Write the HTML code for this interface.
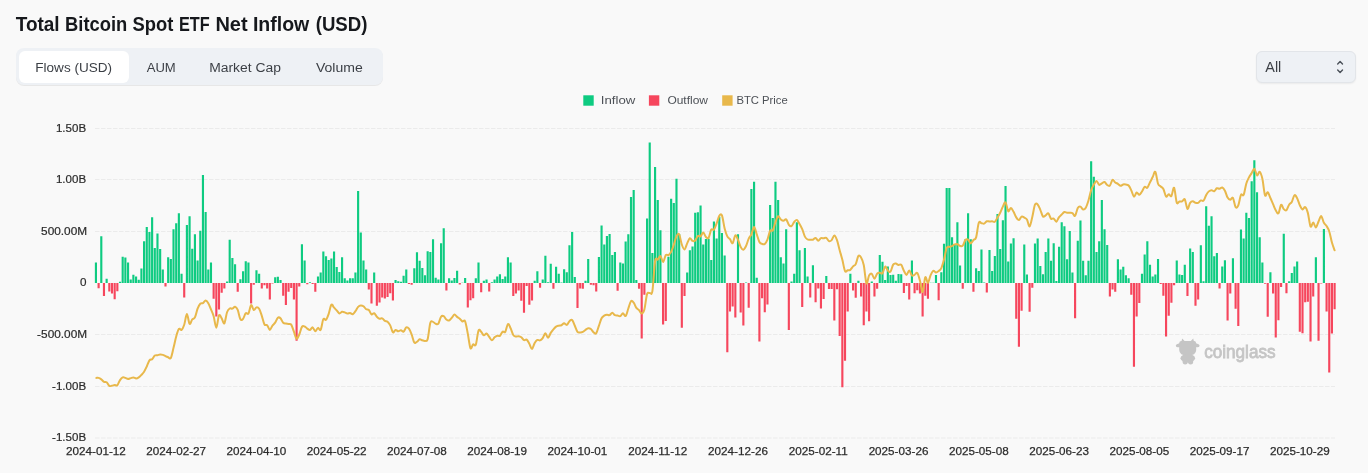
<!DOCTYPE html>
<html><head><meta charset="utf-8"><title>Total Bitcoin Spot ETF Net Inflow (USD)</title>
<style>
*{margin:0;padding:0;box-sizing:border-box}
html,body{width:1368px;height:473px;overflow:hidden;background:#f9f9f9;font-family:"Liberation Sans",sans-serif}
.chart{position:absolute;left:0;top:0;z-index:2;will-change:transform}
.tabs{position:absolute;left:16px;top:48px;width:367px;height:37px;background:#eef1f5;border-radius:8px;box-shadow:0 1px 0.5px rgba(0,0,0,0.07)}
.tab{position:absolute;top:3px;left:3px;width:110px;height:32px;background:#fff;border-radius:6px}
.sel{position:absolute;left:1256px;top:51px;width:99.5px;height:31.5px;background:#eef1f5;border:1px solid #e2e5e9;border-radius:6px;box-shadow:0 1px 2px rgba(0,0,0,0.06)}
</style></head><body>
<div class="tabs"><div class="tab"></div></div>
<div class="sel"></div>
<svg class="chart" width="1368" height="473" viewBox="0 0 1368 473" font-family="&quot;Liberation Sans&quot;, sans-serif">
<line x1="95" y1="128.5" x2="1335" y2="128.5" stroke="#ebebeb" stroke-width="1" stroke-dasharray="4.5 1.5"/>
<line x1="95" y1="179.5" x2="1335" y2="179.5" stroke="#ebebeb" stroke-width="1" stroke-dasharray="4.5 1.5"/>
<line x1="95" y1="231.5" x2="1335" y2="231.5" stroke="#ebebeb" stroke-width="1" stroke-dasharray="4.5 1.5"/>
<line x1="95" y1="334.5" x2="1335" y2="334.5" stroke="#ebebeb" stroke-width="1" stroke-dasharray="4.5 1.5"/>
<line x1="95" y1="386.5" x2="1335" y2="386.5" stroke="#ebebeb" stroke-width="1" stroke-dasharray="4.5 1.5"/>
<line x1="95" y1="438" x2="1335" y2="438" stroke="#ebebeb" stroke-width="1" stroke-dasharray="4.5 1.5"/>
<g fill="#c5c5c5"><path d="M1181.3 342 L1182.2 338.6 L1184.6 341 Z M1194.1 342 L1193.2 338.6 L1190.8 341 Z"/><ellipse cx="1179.2" cy="345.3" rx="3.4" ry="1.8" transform="rotate(-12 1179.2 345.3)"/><ellipse cx="1196.2" cy="345.3" rx="3.4" ry="1.8" transform="rotate(12 1196.2 345.3)"/><path d="M1181 341 H1194.4 Q1196.2 341 1196.2 343.5 V350 Q1196.2 355.5 1187.7 355.8 Q1179.2 355.5 1179.2 350 V343.5 Q1179.2 341 1181 341 Z"/><ellipse cx="1187.8" cy="358.3" rx="7.3" ry="4.2"/><circle cx="1185.2" cy="361.8" r="2.6"/><circle cx="1190.6" cy="361.8" r="2.6"/><text x="1204.2" y="357.9" font-size="17.6" font-weight="400" stroke="#c5c5c5" stroke-width="0.8" textLength="71.4" lengthAdjust="spacingAndGlyphs">coinglass</text></g>
<path d="M94.87 262.4h2.14v20.6h-2.14zM100.22 236.13h2.14v46.86h-2.14zM105.57 278.78h2.14v4.22h-2.14zM118.95 281.87h2.14v1.13h-2.14zM121.62 256.74h2.14v26.26h-2.14zM124.3 257.46h2.14v25.54h-2.14zM126.97 262.61h2.14v20.39h-2.14zM129.65 279.5h2.14v3.5h-2.14zM132.32 274.76h2.14v8.24h-2.14zM135 276.41h2.14v6.59h-2.14zM137.67 279.7h2.14v3.3h-2.14zM140.35 268.48h2.14v14.52h-2.14zM143.03 241.28h2.14v41.71h-2.14zM145.7 227.07h2.14v55.93h-2.14zM148.38 232.01h2.14v50.98h-2.14zM151.05 217.18h2.14v65.82h-2.14zM153.73 248.08h2.14v34.92h-2.14zM156.4 233.56h2.14v49.44h-2.14zM159.08 249.01h2.14v33.99h-2.14zM161.75 269.4h2.14v13.6h-2.14zM167.1 257.25h2.14v25.75h-2.14zM169.78 259.1h2.14v23.9h-2.14zM172.45 229.13h2.14v53.87h-2.14zM175.13 223.26h2.14v59.74h-2.14zM177.8 213.27h2.14v69.73h-2.14zM180.48 273.63h2.14v9.37h-2.14zM185.83 224.91h2.14v58.09h-2.14zM188.51 216.26h2.14v66.74h-2.14zM191.18 248.8h2.14v34.2h-2.14zM193.86 234.28h2.14v48.72h-2.14zM196.53 260.55h2.14v22.45h-2.14zM199.21 230.78h2.14v52.22h-2.14zM201.88 175.06h2.14v107.94h-2.14zM204.56 212.03h2.14v70.97h-2.14zM207.23 269.4h2.14v13.6h-2.14zM209.91 262.4h2.14v20.6h-2.14zM225.96 281.56h2.14v1.44h-2.14zM228.63 239.74h2.14v43.26h-2.14zM231.31 257.97h2.14v25.03h-2.14zM233.99 264.25h2.14v18.75h-2.14zM239.34 279.29h2.14v3.71h-2.14zM242.01 271.26h2.14v11.74h-2.14zM244.69 261.27h2.14v21.73h-2.14zM247.36 262.4h2.14v20.6h-2.14zM255.39 270.33h2.14v12.67h-2.14zM258.06 273.63h2.14v9.37h-2.14zM274.12 277.13h2.14v5.87h-2.14zM276.79 276.72h2.14v6.28h-2.14zM279.47 279.91h2.14v3.09h-2.14zM300.87 244.17h2.14v38.83h-2.14zM303.54 260.55h2.14v22.45h-2.14zM308.89 282.28h2.14v0.72h-2.14zM316.92 276.41h2.14v6.59h-2.14zM319.6 272.49h2.14v10.51h-2.14zM322.27 251.38h2.14v31.62h-2.14zM324.95 256.32h2.14v26.68h-2.14zM327.62 260.03h2.14v22.97h-2.14zM330.3 258.38h2.14v24.62h-2.14zM332.97 251.38h2.14v31.62h-2.14zM335.65 267.04h2.14v15.96h-2.14zM338.32 271.98h2.14v11.02h-2.14zM341 257.25h2.14v25.75h-2.14zM343.67 278.37h2.14v4.63h-2.14zM346.35 280.43h2.14v2.57h-2.14zM349.02 278.37h2.14v4.63h-2.14zM351.7 278.37h2.14v4.63h-2.14zM354.37 272.49h2.14v10.51h-2.14zM357.05 191.02h2.14v91.98h-2.14zM359.72 232.43h2.14v50.57h-2.14zM362.4 260.55h2.14v22.45h-2.14zM365.08 269.4h2.14v13.6h-2.14zM373.1 272.49h2.14v10.51h-2.14zM394.5 279.91h2.14v3.09h-2.14zM397.18 281.15h2.14v1.85h-2.14zM399.85 281.87h2.14v1.13h-2.14zM402.53 275.79h2.14v7.21h-2.14zM405.2 269.4h2.14v13.6h-2.14zM413.23 268.27h2.14v14.73h-2.14zM415.91 252.31h2.14v30.69h-2.14zM418.58 260.75h2.14v22.25h-2.14zM421.26 268.06h2.14v14.93h-2.14zM423.93 275.27h2.14v7.72h-2.14zM426.61 251.17h2.14v31.83h-2.14zM429.28 252.1h2.14v30.9h-2.14zM431.96 239.22h2.14v43.77h-2.14zM434.63 277.64h2.14v5.36h-2.14zM437.31 279.5h2.14v3.5h-2.14zM439.98 243.24h2.14v39.76h-2.14zM442.66 228.2h2.14v54.8h-2.14zM448.01 278.37h2.14v4.63h-2.14zM450.68 280.43h2.14v2.57h-2.14zM453.36 278.06h2.14v4.94h-2.14zM456.04 270.64h2.14v12.36h-2.14zM461.39 282.7h2.14v0.3h-2.14zM464.06 278.06h2.14v4.94h-2.14zM474.76 278.37h2.14v4.63h-2.14zM477.44 262.4h2.14v20.6h-2.14zM482.79 280.63h2.14v2.37h-2.14zM485.46 279.5h2.14v3.5h-2.14zM490.81 282.28h2.14v0.72h-2.14zM493.49 279.5h2.14v3.5h-2.14zM496.16 276.41h2.14v6.59h-2.14zM498.84 274.35h2.14v8.65h-2.14zM501.52 278.98h2.14v4.02h-2.14zM504.19 276.41h2.14v6.59h-2.14zM506.87 257.25h2.14v25.75h-2.14zM509.54 262.4h2.14v20.6h-2.14zM533.62 280.63h2.14v2.37h-2.14zM536.29 271.26h2.14v11.74h-2.14zM541.65 279.5h2.14v3.5h-2.14zM544.32 255.81h2.14v27.19h-2.14zM547 282.28h2.14v0.72h-2.14zM549.67 263.84h2.14v19.16h-2.14zM555.02 266.83h2.14v16.17h-2.14zM557.7 273.63h2.14v9.37h-2.14zM560.37 282.49h2.14v0.52h-2.14zM563.05 269.2h2.14v13.8h-2.14zM565.72 272.19h2.14v10.81h-2.14zM568.4 245.3h2.14v37.7h-2.14zM571.07 232.01h2.14v50.98h-2.14zM573.75 276.92h2.14v6.08h-2.14zM584.45 280.63h2.14v2.37h-2.14zM587.13 258.9h2.14v24.1h-2.14zM597.83 257.04h2.14v25.96h-2.14zM600.5 225.42h2.14v57.58h-2.14zM603.18 244.38h2.14v38.62h-2.14zM605.85 235.93h2.14v47.07h-2.14zM608.53 234.07h2.14v48.92h-2.14zM611.2 254.88h2.14v28.12h-2.14zM613.88 252.1h2.14v30.9h-2.14zM619.23 262.4h2.14v20.6h-2.14zM621.9 263.53h2.14v19.47h-2.14zM624.58 241.59h2.14v41.41h-2.14zM627.25 234.28h2.14v48.72h-2.14zM629.93 197.1h2.14v85.9h-2.14zM632.61 190.09h2.14v92.91h-2.14zM635.28 279.91h2.14v3.09h-2.14zM645.98 218.62h2.14v64.38h-2.14zM648.66 142.41h2.14v140.59h-2.14zM651.33 253.03h2.14v29.97h-2.14zM654.01 167.12h2.14v115.88h-2.14zM656.68 199.88h2.14v83.12h-2.14zM659.36 230.37h2.14v52.63h-2.14zM667.38 256.74h2.14v26.26h-2.14zM670.06 198.75h2.14v84.25h-2.14zM672.73 202.97h2.14v80.03h-2.14zM675.41 178.87h2.14v104.13h-2.14zM678.09 234.07h2.14v48.92h-2.14zM686.11 272.49h2.14v10.51h-2.14zM688.79 250.25h2.14v32.75h-2.14zM691.46 246.44h2.14v36.56h-2.14zM694.14 212.75h2.14v70.25h-2.14zM696.81 212.34h2.14v70.66h-2.14zM699.49 205.54h2.14v77.46h-2.14zM702.16 244.38h2.14v38.62h-2.14zM704.84 239.02h2.14v43.98h-2.14zM707.51 238.71h2.14v44.29h-2.14zM710.19 260.03h2.14v22.97h-2.14zM712.86 221.41h2.14v61.59h-2.14zM715.54 238.5h2.14v44.5h-2.14zM718.21 216.77h2.14v66.23h-2.14zM720.89 232.94h2.14v50.06h-2.14zM723.57 255.4h2.14v27.6h-2.14zM736.94 234.28h2.14v48.72h-2.14zM744.97 282.49h2.14v0.52h-2.14zM750.32 188.96h2.14v94.04h-2.14zM752.99 181.85h2.14v101.15h-2.14zM755.67 277.64h2.14v5.36h-2.14zM769.05 205.03h2.14v77.97h-2.14zM771.72 218.11h2.14v64.89h-2.14zM774.4 181.85h2.14v101.15h-2.14zM777.07 200.09h2.14v82.91h-2.14zM779.75 257.25h2.14v25.75h-2.14zM782.42 263.53h2.14v19.47h-2.14zM785.1 229.13h2.14v53.87h-2.14zM790.45 281.56h2.14v1.44h-2.14zM793.12 273.63h2.14v9.37h-2.14zM795.8 222.13h2.14v60.87h-2.14zM798.47 250.25h2.14v32.75h-2.14zM803.82 247.88h2.14v35.12h-2.14zM806.5 276.41h2.14v6.59h-2.14zM811.85 265.18h2.14v17.82h-2.14zM825.23 276h2.14v7h-2.14zM849.3 273.63h2.14v9.37h-2.14zM857.33 280.73h2.14v2.27h-2.14zM870.71 281.45h2.14v1.54h-2.14zM878.73 254.88h2.14v28.12h-2.14zM881.41 261.68h2.14v21.32h-2.14zM884.08 279.91h2.14v3.09h-2.14zM886.76 266.52h2.14v16.48h-2.14zM889.43 274.97h2.14v8.03h-2.14zM892.11 274.76h2.14v8.24h-2.14zM894.78 280.84h2.14v2.16h-2.14zM897.46 273.94h2.14v9.06h-2.14zM900.14 274.25h2.14v8.75h-2.14zM910.84 260.55h2.14v22.45h-2.14zM929.56 282.7h2.14v0.3h-2.14zM932.24 282.69h2.14v0.31h-2.14zM934.91 275.07h2.14v7.93h-2.14zM940.26 272.19h2.14v10.81h-2.14zM942.94 243.65h2.14v39.35h-2.14zM945.62 187.93h2.14v95.07h-2.14zM948.29 187.93h2.14v95.07h-2.14zM950.97 237.37h2.14v45.63h-2.14zM953.64 244.89h2.14v38.11h-2.14zM956.32 222.23h2.14v60.77h-2.14zM958.99 265.39h2.14v17.61h-2.14zM964.34 239.22h2.14v43.77h-2.14zM967.02 213.27h2.14v69.73h-2.14zM969.69 239.22h2.14v43.77h-2.14zM975.04 268.27h2.14v14.73h-2.14zM977.72 270.95h2.14v12.05h-2.14zM980.39 249.53h2.14v33.48h-2.14zM983.07 282.49h2.14v0.52h-2.14zM988.42 250.04h2.14v32.96h-2.14zM991.1 270.95h2.14v12.05h-2.14zM993.77 256.01h2.14v26.99h-2.14zM996.45 213.99h2.14v69.01h-2.14zM999.12 248.91h2.14v34.09h-2.14zM1001.8 220.17h2.14v62.83h-2.14zM1004.47 186.08h2.14v96.92h-2.14zM1007.15 261.47h2.14v21.53h-2.14zM1009.82 243.45h2.14v39.55h-2.14zM1012.5 238.3h2.14v44.7h-2.14zM1023.2 244.38h2.14v38.62h-2.14zM1025.87 274.55h2.14v8.45h-2.14zM1033.9 243.45h2.14v39.55h-2.14zM1036.58 238.5h2.14v44.5h-2.14zM1039.25 266.11h2.14v16.89h-2.14zM1041.93 274.35h2.14v8.65h-2.14zM1044.6 251.89h2.14v31.11h-2.14zM1047.28 238.5h2.14v44.5h-2.14zM1049.95 260.75h2.14v22.25h-2.14zM1052.63 243.24h2.14v39.76h-2.14zM1055.3 280.94h2.14v2.06h-2.14zM1057.98 246.74h2.14v36.26h-2.14zM1060.65 222.13h2.14v60.87h-2.14zM1063.33 226.14h2.14v56.86h-2.14zM1066 259.31h2.14v23.69h-2.14zM1068.68 230.99h2.14v52.02h-2.14zM1071.35 272.49h2.14v10.51h-2.14zM1076.71 240.87h2.14v42.13h-2.14zM1079.38 220.48h2.14v62.52h-2.14zM1082.06 260.75h2.14v22.25h-2.14zM1084.73 275.27h2.14v7.72h-2.14zM1087.41 260.75h2.14v22.25h-2.14zM1090.08 161.36h2.14v121.64h-2.14zM1092.76 176.81h2.14v106.19h-2.14zM1095.43 252.1h2.14v30.9h-2.14zM1098.11 241.28h2.14v41.71h-2.14zM1100.78 199.88h2.14v83.12h-2.14zM1103.46 229.13h2.14v53.87h-2.14zM1106.13 245.1h2.14v37.9h-2.14zM1116.83 259.31h2.14v23.69h-2.14zM1119.51 269.4h2.14v13.6h-2.14zM1122.19 266.83h2.14v16.17h-2.14zM1124.86 275.27h2.14v7.72h-2.14zM1127.54 278.37h2.14v4.63h-2.14zM1140.91 273.63h2.14v9.37h-2.14zM1143.59 254.47h2.14v28.53h-2.14zM1146.26 241.28h2.14v41.71h-2.14zM1148.94 264.77h2.14v18.23h-2.14zM1151.61 276.41h2.14v6.59h-2.14zM1154.29 274.55h2.14v8.45h-2.14zM1156.96 259.1h2.14v23.9h-2.14zM1175.69 260.55h2.14v22.45h-2.14zM1178.37 274.55h2.14v8.45h-2.14zM1181.04 275.07h2.14v7.93h-2.14zM1183.72 264.77h2.14v18.23h-2.14zM1189.07 248.6h2.14v34.4h-2.14zM1191.74 252.1h2.14v30.9h-2.14zM1199.77 245.3h2.14v37.7h-2.14zM1202.44 281.15h2.14v1.85h-2.14zM1205.12 206.26h2.14v76.73h-2.14zM1207.79 225.84h2.14v57.16h-2.14zM1210.47 216.26h2.14v66.74h-2.14zM1213.15 256.32h2.14v26.68h-2.14zM1215.82 253.03h2.14v29.97h-2.14zM1221.17 266.42h2.14v16.58h-2.14zM1223.85 260.34h2.14v22.66h-2.14zM1231.87 258.18h2.14v24.82h-2.14zM1239.9 229.44h2.14v53.56h-2.14zM1242.57 238.5h2.14v44.5h-2.14zM1245.25 212.75h2.14v70.25h-2.14zM1247.92 217.9h2.14v65.1h-2.14zM1250.6 181.24h2.14v101.76h-2.14zM1253.27 160.33h2.14v122.67h-2.14zM1255.95 192.15h2.14v90.85h-2.14zM1258.63 237.16h2.14v45.84h-2.14zM1261.3 262.4h2.14v20.6h-2.14zM1269.33 272.19h2.14v10.81h-2.14zM1282.7 233.77h2.14v49.23h-2.14zM1288.05 281.25h2.14v1.75h-2.14zM1290.73 273.01h2.14v9.99h-2.14zM1293.4 266.52h2.14v16.48h-2.14zM1296.08 261.47h2.14v21.53h-2.14zM1314.81 257.35h2.14v25.65h-2.14zM1322.83 229.03h2.14v53.97h-2.14z" fill="#0ecb81"/>
<path d="M97.55 283h2.14v5.25h-2.14zM102.9 283h2.14v12.88h-2.14zM108.25 283h2.14v8.45h-2.14zM110.92 283h2.14v10.51h-2.14zM113.6 283h2.14v16.27h-2.14zM116.27 283h2.14v8.14h-2.14zM164.43 283h2.14v3.6h-2.14zM183.15 283h2.14v14.42h-2.14zM212.58 283h2.14v15.86h-2.14zM215.26 283h2.14v33.48h-2.14zM217.93 283h2.14v26.57h-2.14zM220.61 283h2.14v9.68h-2.14zM223.28 283h2.14v5.46h-2.14zM236.66 283h2.14v8.65h-2.14zM250.04 283h2.14v20.5h-2.14zM252.71 283h2.14v1.75h-2.14zM260.74 283h2.14v5.46h-2.14zM263.41 283h2.14v2.37h-2.14zM266.09 283h2.14v5.46h-2.14zM268.76 283h2.14v16.58h-2.14zM271.44 283h2.14v0.52h-2.14zM282.14 283h2.14v12.67h-2.14zM284.82 283h2.14v22.04h-2.14zM287.49 283h2.14v8.65h-2.14zM290.17 283h2.14v4.94h-2.14zM292.84 283h2.14v16.58h-2.14zM295.52 283h2.14v57.68h-2.14zM298.19 283h2.14v3.6h-2.14zM306.22 283h2.14v1.24h-2.14zM311.57 283h2.14v1.03h-2.14zM314.24 283h2.14v8.65h-2.14zM367.75 283h2.14v6.59h-2.14zM370.43 283h2.14v20.5h-2.14zM375.78 283h2.14v22.87h-2.14zM378.45 283h2.14v19.47h-2.14zM381.13 283h2.14v14.42h-2.14zM383.8 283h2.14v15.55h-2.14zM386.48 283h2.14v14.11h-2.14zM389.15 283h2.14v10.2h-2.14zM391.83 283h2.14v17.61h-2.14zM407.88 283h2.14v1.03h-2.14zM410.56 283h2.14v1.75h-2.14zM445.33 283h2.14v7.62h-2.14zM458.71 283h2.14v1.44h-2.14zM466.74 283h2.14v24.51h-2.14zM469.41 283h2.14v17.3h-2.14zM472.09 283h2.14v15.24h-2.14zM480.11 283h2.14v9.17h-2.14zM488.14 283h2.14v8.45h-2.14zM512.22 283h2.14v12.88h-2.14zM514.89 283h2.14v10.51h-2.14zM517.57 283h2.14v7.62h-2.14zM520.24 283h2.14v17.82h-2.14zM522.92 283h2.14v29.77h-2.14zM525.59 283h2.14v2.88h-2.14zM528.27 283h2.14v21.84h-2.14zM530.94 283h2.14v17.61h-2.14zM538.97 283h2.14v4.63h-2.14zM552.35 283h2.14v5.67h-2.14zM576.42 283h2.14v25.03h-2.14zM579.1 283h2.14v5.46h-2.14zM581.77 283h2.14v5.67h-2.14zM589.8 283h2.14v1.75h-2.14zM592.48 283h2.14v2.37h-2.14zM595.15 283h2.14v8.45h-2.14zM616.55 283h2.14v7.83h-2.14zM637.96 283h2.14v5.67h-2.14zM640.63 283h2.14v55.52h-2.14zM643.31 283h2.14v11.84h-2.14zM662.03 283h2.14v41.41h-2.14zM664.71 283h2.14v38.01h-2.14zM680.76 283h2.14v44.8h-2.14zM683.44 283h2.14v12.88h-2.14zM726.24 283h2.14v69.32h-2.14zM728.92 283h2.14v28.53h-2.14zM731.59 283h2.14v23.48h-2.14zM734.27 283h2.14v34.5h-2.14zM739.62 283h2.14v29.56h-2.14zM742.29 283h2.14v42.54h-2.14zM747.64 283h2.14v24.82h-2.14zM758.34 283h2.14v58.4h-2.14zM761.02 283h2.14v15.24h-2.14zM763.7 283h2.14v29.25h-2.14zM766.37 283h2.14v21.53h-2.14zM787.77 283h2.14v46.97h-2.14zM801.15 283h2.14v24h-2.14zM809.18 283h2.14v14.42h-2.14zM814.53 283h2.14v19.26h-2.14zM817.2 283h2.14v5.46h-2.14zM819.88 283h2.14v25.54h-2.14zM822.55 283h2.14v16.07h-2.14zM827.9 283h2.14v5.97h-2.14zM830.58 283h2.14v5.97h-2.14zM833.25 283h2.14v37.39h-2.14zM835.93 283h2.14v6.28h-2.14zM838.6 283h2.14v52.94h-2.14zM841.28 283h2.14v104.34h-2.14zM843.95 283h2.14v77.66h-2.14zM846.63 283h2.14v28.53h-2.14zM851.98 283h2.14v7.62h-2.14zM854.66 283h2.14v14.83h-2.14zM860.01 283h2.14v13.6h-2.14zM862.68 283h2.14v42.23h-2.14zM865.36 283h2.14v28.53h-2.14zM868.03 283h2.14v38.21h-2.14zM873.38 283h2.14v13.6h-2.14zM876.06 283h2.14v5.67h-2.14zM902.81 283h2.14v9.89h-2.14zM905.49 283h2.14v3.09h-2.14zM908.16 283h2.14v16.48h-2.14zM913.51 283h2.14v10.3h-2.14zM916.19 283h2.14v7.21h-2.14zM918.86 283h2.14v10.61h-2.14zM921.54 283h2.14v33.48h-2.14zM924.21 283h2.14v12.77h-2.14zM926.89 283h2.14v15.66h-2.14zM937.59 283h2.14v17.3h-2.14zM961.67 283h2.14v5.67h-2.14zM972.37 283h2.14v8.65h-2.14zM985.74 283h2.14v9.48h-2.14zM1015.17 283h2.14v35.74h-2.14zM1017.85 283h2.14v63.65h-2.14zM1020.52 283h2.14v27.81h-2.14zM1028.55 283h2.14v28.74h-2.14zM1031.22 283h2.14v4.63h-2.14zM1074.03 283h2.14v35.23h-2.14zM1108.81 283h2.14v13.39h-2.14zM1111.48 283h2.14v6.59h-2.14zM1114.16 283h2.14v8.65h-2.14zM1130.21 283h2.14v11.64h-2.14zM1132.89 283h2.14v83.64h-2.14zM1135.56 283h2.14v33.48h-2.14zM1138.24 283h2.14v20.08h-2.14zM1159.64 283h2.14v1.03h-2.14zM1162.31 283h2.14v12.67h-2.14zM1164.99 283h2.14v53.46h-2.14zM1167.67 283h2.14v32.75h-2.14zM1170.34 283h2.14v19.67h-2.14zM1173.02 283h2.14v2.37h-2.14zM1186.39 283h2.14v13.08h-2.14zM1194.42 283h2.14v22.66h-2.14zM1197.09 283h2.14v16.58h-2.14zM1218.5 283h2.14v5.46h-2.14zM1226.52 283h2.14v37.49h-2.14zM1229.2 283h2.14v10.51h-2.14zM1234.55 283h2.14v25.75h-2.14zM1237.22 283h2.14v42.95h-2.14zM1263.98 283h2.14v0.72h-2.14zM1266.65 283h2.14v33.78h-2.14zM1272 283h2.14v10.4h-2.14zM1274.68 283h2.14v54.59h-2.14zM1277.35 283h2.14v37.29h-2.14zM1280.03 283h2.14v3.91h-2.14zM1285.38 283h2.14v10.2h-2.14zM1298.75 283h2.14v48.82h-2.14zM1301.43 283h2.14v50.37h-2.14zM1304.11 283h2.14v19.36h-2.14zM1306.78 283h2.14v18.64h-2.14zM1309.46 283h2.14v58.4h-2.14zM1312.13 283h2.14v13.6h-2.14zM1317.48 283h2.14v57.78h-2.14zM1320.16 283h2.14v0.52h-2.14zM1325.51 283h2.14v28.43h-2.14zM1328.18 283h2.14v89.61h-2.14zM1330.86 283h2.14v50.57h-2.14zM1333.53 283h2.14v26.26h-2.14z" fill="#f6465d"/>
<path d="M96.3 377.9C96.69 377.9 97.78 377.65 98.61 377.9C99.44 378.15 100.4 378.73 101.29 379.39C102.18 380.04 103.07 381.35 103.96 381.83C104.86 382.32 105.75 381.62 106.64 382.3C107.53 382.98 108.42 385.38 109.31 385.94C110.21 386.5 111.1 385.81 111.99 385.65C112.88 385.49 113.77 385.03 114.66 384.96C115.56 384.89 116.45 386.04 117.34 385.22C118.23 384.4 119.12 381.38 120.02 380.07C120.91 378.76 121.8 377.72 122.69 377.36C123.58 377 124.47 377.63 125.37 377.89C126.26 378.16 127.15 378.92 128.04 378.96C128.93 378.99 129.82 378.36 130.72 378.11C131.61 377.85 132.5 377.37 133.39 377.42C134.28 377.48 135.18 378.43 136.07 378.43C136.96 378.42 137.85 377.99 138.74 377.41C139.63 376.82 140.53 375.87 141.42 374.92C142.31 373.98 143.2 373.15 144.09 371.74C144.98 370.33 145.88 368.36 146.77 366.46C147.66 364.55 148.55 361.54 149.44 360.33C150.34 359.11 151.23 359.97 152.12 359.17C153.01 358.38 153.9 356.22 154.79 355.56C155.69 354.89 156.58 355.35 157.47 355.18C158.36 355 159.25 354.59 160.14 354.53C161.04 354.48 161.93 354.59 162.82 354.85C163.71 355.11 164.6 355.66 165.5 356.07C166.39 356.48 167.28 356.98 168.17 357.3C169.06 357.61 169.95 359.55 170.85 357.97C171.74 356.39 172.63 351.39 173.52 347.82C174.41 344.24 175.3 339.67 176.2 336.52C177.09 333.38 177.98 330.06 178.87 328.96C179.76 327.85 180.66 330.6 181.55 329.9C182.44 329.2 183.33 327.4 184.22 324.76C185.11 322.13 186.01 314.23 186.9 314.08C187.79 313.93 188.68 322.99 189.57 323.88C190.46 324.76 191.36 320.47 192.25 319.4C193.14 318.32 194.03 319.2 194.92 317.42C195.82 315.64 196.71 310.98 197.6 308.69C198.49 306.4 199.38 304.65 200.27 303.71C201.17 302.76 202.06 303.54 202.95 303.02C203.84 302.5 204.73 300.52 205.62 300.57C206.52 300.62 207.41 301.82 208.3 303.3C209.19 304.78 210.08 307.3 210.98 309.45C211.87 311.6 212.76 313.18 213.65 316.22C214.54 319.26 215.43 327.86 216.33 327.71C217.22 327.56 218.11 316.88 219 315.32C219.89 313.77 220.78 317.03 221.68 318.36C222.57 319.69 223.46 324.32 224.35 323.3C225.24 322.29 226.14 314.73 227.03 312.27C227.92 309.8 228.81 309.13 229.7 308.53C230.59 307.93 231.49 308.97 232.38 308.67C233.27 308.37 234.16 306.52 235.05 306.72C235.95 306.93 236.84 307.8 237.73 309.9C238.62 312 239.51 317.82 240.4 319.32C241.3 320.81 242.19 319.9 243.08 318.86C243.97 317.83 244.86 314 245.75 313.1C246.65 312.21 247.54 314.85 248.43 313.51C249.32 312.17 250.21 305.67 251.11 305.09C252 304.5 252.89 309.61 253.78 309.99C254.67 310.37 255.56 307.56 256.46 307.36C257.35 307.16 258.24 307.4 259.13 308.8C260.02 310.21 260.91 313.2 261.81 315.8C262.7 318.4 263.59 322.86 264.48 324.42C265.37 325.99 266.27 324.28 267.16 325.19C268.05 326.1 268.94 329.82 269.83 329.88C270.72 329.93 271.62 326.69 272.51 325.49C273.4 324.29 274.29 323.97 275.18 322.68C276.07 321.39 276.97 318.49 277.86 317.75C278.75 317.02 279.64 317.44 280.53 318.28C281.43 319.13 282.32 321.94 283.21 322.81C284.1 323.68 284.99 323.33 285.88 323.52C286.78 323.71 287.67 323.76 288.56 323.95C289.45 324.15 290.34 323.41 291.23 324.69C292.13 325.97 293.02 329.31 293.91 331.63C294.8 333.95 295.69 338.13 296.59 338.61C297.48 339.09 298.37 336.48 299.26 334.52C300.15 332.56 301.04 328.17 301.94 326.83C302.83 325.49 303.72 326.18 304.61 326.47C305.5 326.76 306.39 327.97 307.29 328.56C308.18 329.14 309.07 330.19 309.96 329.99C310.85 329.79 311.75 327.15 312.64 327.37C313.53 327.59 314.42 331.23 315.31 331.31C316.2 331.4 317.1 328.12 317.99 327.88C318.88 327.63 319.77 331.3 320.66 329.85C321.55 328.39 322.45 320.8 323.34 319.14C324.23 317.48 325.12 320.78 326.01 319.9C326.91 319.03 327.8 316.42 328.69 313.88C329.58 311.35 330.47 305.71 331.36 304.68C332.26 303.64 333.15 306.73 334.04 307.68C334.93 308.64 335.82 309.46 336.71 310.41C337.61 311.37 338.5 313.2 339.39 313.44C340.28 313.67 341.17 312.02 342.07 311.83C342.96 311.65 343.85 312.05 344.74 312.33C345.63 312.62 346.52 313.43 347.42 313.54C348.31 313.66 349.2 312.91 350.09 313.02C350.98 313.13 351.87 314.49 352.77 314.18C353.66 313.87 354.55 312.37 355.44 311.15C356.33 309.94 357.23 307.84 358.12 306.88C359.01 305.92 359.9 305.5 360.79 305.4C361.68 305.3 362.58 305.66 363.47 306.29C364.36 306.93 365.25 308.59 366.14 309.22C367.03 309.85 367.93 309.22 368.82 310.08C369.71 310.94 370.6 313.86 371.49 314.38C372.39 314.89 373.28 312.79 374.17 313.19C375.06 313.58 375.95 315.81 376.84 316.73C377.74 317.65 378.63 318.42 379.52 318.68C380.41 318.95 381.3 317.95 382.19 318.31C383.09 318.68 383.98 320.29 384.87 320.87C385.76 321.44 386.65 321.02 387.55 321.77C388.44 322.52 389.33 323.61 390.22 325.36C391.11 327.11 392 331.53 392.9 332.29C393.79 333.04 394.68 330.06 395.57 329.9C396.46 329.74 397.35 331.3 398.25 331.35C399.14 331.39 400.03 330.13 400.92 330.17C401.81 330.21 402.71 332.04 403.6 331.58C404.49 331.12 405.38 327.88 406.27 327.4C407.16 326.92 408.06 327.58 408.95 328.72C409.84 329.87 410.73 331.99 411.62 334.28C412.51 336.58 413.41 341.27 414.3 342.51C415.19 343.76 416.08 342.31 416.97 341.77C417.87 341.23 418.76 339.52 419.65 339.27C420.54 339.03 421.43 340.02 422.32 340.29C423.22 340.56 424.11 341.09 425 340.89C425.89 340.7 426.78 342.16 427.67 339.13C428.57 336.1 429.46 325.61 430.35 322.74C431.24 319.86 432.13 321.69 433.03 321.87C433.92 322.05 434.81 323.54 435.7 323.82C436.59 324.09 437.48 324.71 438.38 323.53C439.27 322.36 440.16 317.98 441.05 316.76C441.94 315.54 442.83 315.75 443.73 316.21C444.62 316.67 445.51 318.81 446.4 319.52C447.29 320.24 448.19 320.78 449.08 320.5C449.97 320.22 450.86 318.84 451.75 317.84C452.64 316.83 453.54 314.62 454.43 314.46C455.32 314.3 456.21 316.15 457.1 316.87C457.99 317.59 458.89 318.01 459.78 318.79C460.67 319.56 461.56 321.09 462.45 321.51C463.35 321.94 464.24 319.28 465.13 321.32C466.02 323.36 466.91 329.27 467.8 333.76C468.7 338.25 469.59 346.48 470.48 348.24C471.37 350 472.26 344.93 473.15 344.35C474.05 343.76 474.94 347.05 475.83 344.75C476.72 342.45 477.61 332.68 478.51 330.53C479.4 328.37 480.29 331 481.18 331.8C482.07 332.61 482.96 335.07 483.86 335.34C484.75 335.62 485.64 333.2 486.53 333.47C487.42 333.74 488.31 335.82 489.21 336.96C490.1 338.1 490.99 340.24 491.88 340.31C492.77 340.38 493.67 338.12 494.56 337.36C495.45 336.6 496.34 335.99 497.23 335.74C498.12 335.5 499.02 336.56 499.91 335.88C500.8 335.21 501.69 332.35 502.58 331.68C503.48 331 504.37 333.13 505.26 331.85C506.15 330.57 507.04 324.59 507.93 323.99C508.83 323.39 509.72 326.42 510.61 328.25C511.5 330.08 512.39 333.61 513.28 334.98C514.18 336.36 515.07 336.29 515.96 336.5C516.85 336.71 517.74 336.14 518.64 336.25C519.53 336.37 520.42 336.56 521.31 337.2C522.2 337.84 523.09 339.67 523.99 340.08C524.88 340.5 525.77 339.05 526.66 339.67C527.55 340.29 528.44 342.26 529.34 343.8C530.23 345.35 531.12 349.09 532.01 348.95C532.9 348.8 533.8 344.4 534.69 342.91C535.58 341.41 536.47 340.39 537.36 339.97C538.25 339.55 539.15 340.69 540.04 340.37C540.93 340.06 541.82 339.26 542.71 338.08C543.6 336.91 544.5 333.39 545.39 333.32C546.28 333.26 547.17 337.76 548.06 337.69C548.96 337.62 549.85 334.3 550.74 332.91C551.63 331.51 552.52 330.34 553.41 329.3C554.31 328.26 555.2 327.26 556.09 326.66C556.98 326.06 557.87 325.94 558.76 325.7C559.66 325.46 560.55 325.62 561.44 325.22C562.33 324.82 563.22 323.33 564.12 323.28C565.01 323.24 565.9 325.29 566.79 324.94C567.68 324.59 568.57 322.01 569.47 321.19C570.36 320.36 571.25 319.22 572.14 319.98C573.03 320.74 573.92 323.78 574.82 325.74C575.71 327.71 576.6 330.67 577.49 331.78C578.38 332.89 579.28 332.37 580.17 332.4C581.06 332.42 581.95 332.36 582.84 331.93C583.73 331.5 584.63 330.43 585.52 329.81C586.41 329.19 587.3 328.37 588.19 328.23C589.08 328.09 589.98 328.31 590.87 328.99C591.76 329.67 592.65 331.59 593.54 332.3C594.44 333.01 595.33 334.32 596.22 333.25C597.11 332.17 598 328.32 598.89 325.82C599.79 323.33 600.68 319.99 601.57 318.3C602.46 316.6 603.35 316.23 604.24 315.65C605.14 315.06 606.03 314.88 606.92 314.8C607.81 314.71 608.7 315.45 609.6 315.12C610.49 314.79 611.38 312.82 612.27 312.83C613.16 312.85 614.05 314.74 614.95 315.2C615.84 315.66 616.73 315.44 617.62 315.59C618.51 315.75 619.4 316.49 620.3 316.11C621.19 315.72 622.08 313.3 622.97 313.27C623.86 313.25 624.76 316.74 625.65 315.95C626.54 315.16 627.43 310.98 628.32 308.53C629.21 306.07 630.11 302.18 631 301.2C631.89 300.23 632.78 301.56 633.67 302.67C634.56 303.79 635.46 306.64 636.35 307.88C637.24 309.13 638.13 309.21 639.02 310.14C639.92 311.07 640.81 313.59 641.7 313.49C642.59 313.38 643.48 312.73 644.37 309.51C645.27 306.29 646.16 296.91 647.05 294.15C647.94 291.39 648.83 293.43 649.72 292.93C650.62 292.43 651.51 296.4 652.4 291.12C653.29 285.85 654.18 266.55 655.08 261.28C655.97 256.01 656.86 260.37 657.75 259.51C658.64 258.65 659.53 255.7 660.43 256.12C661.32 256.54 662.21 262.22 663.1 262.04C663.99 261.86 664.88 256.18 665.78 255.02C666.67 253.87 667.56 255.62 668.45 255.09C669.34 254.56 670.24 253.56 671.13 251.85C672.02 250.13 672.91 247.37 673.8 244.78C674.69 242.2 675.59 238.08 676.48 236.33C677.37 234.59 678.26 232.93 679.15 234.31C680.04 235.69 680.94 242.08 681.83 244.61C682.72 247.14 683.61 249.71 684.5 249.5C685.4 249.28 686.29 245.21 687.18 243.33C688.07 241.46 688.96 238.65 689.85 238.25C690.75 237.84 691.64 240.52 692.53 240.9C693.42 241.28 694.31 241.33 695.2 240.51C696.1 239.68 696.99 236.61 697.88 235.93C698.77 235.25 699.66 237.01 700.56 236.42C701.45 235.84 702.34 232.32 703.23 232.42C704.12 232.51 705.01 236.1 705.91 237C706.8 237.9 707.69 239.04 708.58 237.8C709.47 236.56 710.36 230.91 711.26 229.55C712.15 228.19 713.04 230.67 713.93 229.65C714.82 228.63 715.72 225.73 716.61 223.44C717.5 221.14 718.39 217.19 719.28 215.86C720.17 214.54 721.07 213.42 721.96 215.51C722.85 217.61 723.74 224.95 724.63 228.43C725.52 231.9 726.42 234.57 727.31 236.37C728.2 238.17 729.09 238.07 729.98 239.21C730.88 240.36 731.77 243.91 732.66 243.25C733.55 242.59 734.44 235.78 735.33 235.23C736.23 234.69 737.12 238 738.01 239.96C738.9 241.92 739.79 245.37 740.68 246.98C741.58 248.6 742.47 249.83 743.36 249.66C744.25 249.49 745.14 247.82 746.04 245.97C746.93 244.13 747.82 240.5 748.71 238.57C749.6 236.65 750.49 236.36 751.39 234.45C752.28 232.53 753.17 227.11 754.06 227.08C754.95 227.05 755.84 231.79 756.74 234.28C757.63 236.76 758.52 240.38 759.41 241.99C760.3 243.6 761.2 243.58 762.09 243.91C762.98 244.24 763.87 244.68 764.76 243.97C765.65 243.25 766.55 241.8 767.44 239.61C768.33 237.42 769.22 232.34 770.11 230.8C771.01 229.26 771.9 231.82 772.79 230.37C773.68 228.92 774.57 224.48 775.46 222.12C776.36 219.77 777.25 216.67 778.14 216.23C779.03 215.79 779.92 218.72 780.81 219.48C781.71 220.24 782.6 220.82 783.49 220.81C784.38 220.79 785.27 218.7 786.17 219.36C787.06 220.03 787.95 223.64 788.84 224.77C789.73 225.91 790.62 226.63 791.52 226.17C792.41 225.71 793.3 223.04 794.19 222C795.08 220.97 795.97 219.6 796.87 219.93C797.76 220.26 798.65 222.45 799.54 223.98C800.43 225.51 801.33 227.02 802.22 229.13C803.11 231.25 804 234.94 804.89 236.66C805.78 238.39 806.68 238.99 807.57 239.5C808.46 240 809.35 239.67 810.24 239.7C811.13 239.73 812.03 240 812.92 239.7C813.81 239.4 814.7 237.73 815.59 237.91C816.49 238.08 817.38 240.69 818.27 240.74C819.16 240.78 820.05 238.58 820.94 238.18C821.84 237.77 822.73 238.35 823.62 238.31C824.51 238.26 825.4 237.43 826.29 237.9C827.19 238.37 828.08 240.77 828.97 241.15C829.86 241.52 830.75 241.06 831.65 240.12C832.54 239.18 833.43 235.51 834.32 235.53C835.21 235.54 836.1 237.76 837 240.2C837.89 242.64 838.78 246.92 839.67 250.18C840.56 253.45 841.45 256.3 842.35 259.77C843.24 263.25 844.13 269.28 845.02 271.03C845.91 272.78 846.81 270.48 847.7 270.28C848.59 270.08 849.48 270.47 850.37 269.82C851.26 269.18 852.16 267.35 853.05 266.4C853.94 265.45 854.83 265.85 855.72 264.1C856.61 262.36 857.51 257.05 858.4 255.95C859.29 254.85 860.18 255.99 861.07 257.5C861.97 259 862.86 260.69 863.75 264.98C864.64 269.27 865.53 281.5 866.42 283.24C867.32 284.97 868.21 276.95 869.1 275.38C869.99 273.81 870.88 273.27 871.77 273.82C872.67 274.38 873.56 278.76 874.45 278.72C875.34 278.68 876.23 274.6 877.13 273.59C878.02 272.58 878.91 272.73 879.8 272.66C880.69 272.6 881.58 274.22 882.48 273.21C883.37 272.2 884.26 267.04 885.15 266.6C886.04 266.15 886.93 269.7 887.83 270.55C888.72 271.4 889.61 272.68 890.5 271.69C891.39 270.7 892.29 265.98 893.18 264.63C894.07 263.29 894.96 263.55 895.85 263.62C896.74 263.68 897.64 264.85 898.53 265.02C899.42 265.2 900.31 263.74 901.2 264.68C902.09 265.63 902.99 269 903.88 270.7C904.77 272.4 905.66 274.91 906.55 274.88C907.45 274.84 908.34 270.41 909.23 270.5C910.12 270.59 911.01 274.71 911.9 275.43C912.8 276.15 913.69 275.22 914.58 274.8C915.47 274.38 916.36 271.93 917.25 272.89C918.15 273.85 919.04 277.39 919.93 280.57C920.82 283.75 921.71 292.51 922.61 291.97C923.5 291.43 924.39 278.86 925.28 277.33C926.17 275.79 927.06 283.12 927.96 282.74C928.85 282.37 929.74 277.07 930.63 275.08C931.52 273.09 932.41 271.23 933.31 270.81C934.2 270.38 935.09 272.5 935.98 272.55C936.87 272.59 937.77 271.83 938.66 271.08C939.55 270.33 940.44 269.96 941.33 268.05C942.22 266.13 943.12 262.95 944.01 259.6C944.9 256.25 945.79 250.07 946.68 247.95C947.57 245.84 948.47 247.21 949.36 246.89C950.25 246.58 951.14 246.49 952.03 246.08C952.93 245.66 953.82 244.69 954.71 244.38C955.6 244.06 956.49 243.93 957.38 244.19C958.28 244.45 959.17 245.68 960.06 245.92C960.95 246.16 961.84 246.6 962.73 245.61C963.63 244.62 964.52 240.99 965.41 239.99C966.3 238.98 967.19 239.02 968.09 239.59C968.98 240.16 969.87 243.35 970.76 243.41C971.65 243.47 972.54 240.97 973.44 239.97C974.33 238.97 975.22 240.27 976.11 237.4C977 234.53 977.89 225.13 978.79 222.75C979.68 220.38 980.57 223 981.46 223.15C982.35 223.29 983.25 223.95 984.14 223.64C985.03 223.33 985.92 221.62 986.81 221.26C987.7 220.9 988.6 221.47 989.49 221.49C990.38 221.5 991.27 221.32 992.16 221.37C993.05 221.41 993.95 222.4 994.84 221.75C995.73 221.11 996.62 219.01 997.51 217.5C998.41 215.99 999.3 214.5 1000.19 212.69C1001.08 210.87 1001.97 208.33 1002.86 206.61C1003.76 204.9 1004.65 201.62 1005.54 202.39C1006.43 203.16 1007.32 210.32 1008.21 211.25C1009.11 212.17 1010 207.83 1010.89 207.93C1011.78 208.03 1012.67 210.28 1013.57 211.85C1014.46 213.43 1015.35 216.01 1016.24 217.38C1017.13 218.75 1018.02 220.22 1018.92 220.09C1019.81 219.95 1020.7 217.03 1021.59 216.6C1022.48 216.17 1023.37 217.02 1024.27 217.52C1025.16 218.01 1026.05 218.07 1026.94 219.55C1027.83 221.03 1028.73 226.82 1029.62 226.39C1030.51 225.97 1031.4 220.61 1032.29 216.98C1033.18 213.35 1034.08 206.71 1034.97 204.62C1035.86 202.53 1036.75 203.57 1037.64 204.43C1038.54 205.29 1039.43 207.76 1040.32 209.78C1041.21 211.8 1042.1 215.62 1042.99 216.56C1043.89 217.49 1044.78 215.91 1045.67 215.39C1046.56 214.87 1047.45 212.87 1048.34 213.42C1049.24 213.98 1050.13 217.84 1051.02 218.7C1051.91 219.55 1052.8 218.05 1053.7 218.54C1054.59 219.04 1055.48 221.9 1056.37 221.67C1057.26 221.43 1058.15 218.35 1059.05 217.15C1059.94 215.96 1060.83 215.33 1061.72 214.48C1062.61 213.63 1063.5 212.35 1064.4 212.05C1065.29 211.75 1066.18 212.56 1067.07 212.69C1067.96 212.82 1068.86 212.77 1069.75 212.84C1070.64 212.9 1071.53 212.59 1072.42 213.09C1073.31 213.58 1074.21 216.65 1075.1 215.81C1075.99 214.97 1076.88 209.57 1077.77 208.04C1078.66 206.51 1079.56 206.39 1080.45 206.64C1081.34 206.89 1082.23 209.35 1083.12 209.53C1084.02 209.71 1084.91 209.23 1085.8 207.72C1086.69 206.22 1087.58 203.43 1088.47 200.5C1089.37 197.57 1090.26 192.77 1091.15 190.15C1092.04 187.52 1092.93 186.3 1093.82 184.76C1094.72 183.22 1095.61 180.9 1096.5 180.91C1097.39 180.93 1098.28 184.45 1099.18 184.86C1100.07 185.26 1100.96 183.8 1101.85 183.33C1102.74 182.86 1103.63 181.76 1104.53 182.04C1105.42 182.32 1106.31 184.44 1107.2 185.03C1108.09 185.61 1108.98 186.43 1109.88 185.57C1110.77 184.71 1111.66 180.37 1112.55 179.86C1113.44 179.34 1114.34 181.82 1115.23 182.47C1116.12 183.13 1117.01 183.26 1117.9 183.81C1118.79 184.36 1119.69 185.68 1120.58 185.78C1121.47 185.88 1122.36 184.6 1123.25 184.4C1124.14 184.2 1125.04 184.41 1125.93 184.59C1126.82 184.77 1127.71 184.54 1128.6 185.49C1129.5 186.45 1130.39 188.46 1131.28 190.32C1132.17 192.18 1133.06 196.27 1133.95 196.64C1134.85 197.01 1135.74 192.86 1136.63 192.55C1137.52 192.23 1138.41 194.93 1139.3 194.76C1140.2 194.58 1141.09 192.83 1141.98 191.51C1142.87 190.18 1143.76 187.42 1144.66 186.79C1145.55 186.16 1146.44 188.5 1147.33 187.74C1148.22 186.98 1149.11 184.01 1150.01 182.23C1150.9 180.45 1151.79 178.79 1152.68 177.06C1153.57 175.32 1154.46 170.73 1155.36 171.84C1156.25 172.95 1157.14 181.3 1158.03 183.74C1158.92 186.17 1159.82 185.57 1160.71 186.45C1161.6 187.33 1162.49 187.35 1163.38 189.02C1164.27 190.7 1165.17 195.62 1166.06 196.49C1166.95 197.37 1167.84 194.34 1168.73 194.26C1169.62 194.18 1170.52 197.12 1171.41 196.03C1172.3 194.94 1173.19 186.64 1174.08 187.73C1174.98 188.82 1175.87 200.28 1176.76 202.57C1177.65 204.85 1178.54 201.65 1179.43 201.46C1180.33 201.27 1181.22 201.8 1182.11 201.43C1183 201.07 1183.89 198.06 1184.78 199.29C1185.68 200.53 1186.57 208.23 1187.46 208.83C1188.35 209.43 1189.24 204.17 1190.14 202.92C1191.03 201.67 1191.92 201.36 1192.81 201.34C1193.7 201.33 1194.59 202.57 1195.49 202.83C1196.38 203.09 1197.27 203.29 1198.16 202.9C1199.05 202.5 1199.94 200.82 1200.84 200.44C1201.73 200.07 1202.62 201.54 1203.51 200.64C1204.4 199.74 1205.3 196.58 1206.19 195.04C1207.08 193.49 1207.97 192.19 1208.86 191.38C1209.75 190.58 1210.65 190.22 1211.54 190.2C1212.43 190.18 1213.32 191.57 1214.21 191.24C1215.1 190.92 1216 188.67 1216.89 188.26C1217.78 187.84 1218.67 188.88 1219.56 188.76C1220.46 188.64 1221.35 187.22 1222.24 187.53C1223.13 187.85 1224.02 188.98 1224.91 190.66C1225.81 192.34 1226.7 196.09 1227.59 197.61C1228.48 199.13 1229.37 199.71 1230.26 199.76C1231.16 199.81 1232.05 196.66 1232.94 197.9C1233.83 199.14 1234.72 205.95 1235.62 207.18C1236.51 208.42 1237.4 207.37 1238.29 205.31C1239.18 203.26 1240.07 196.59 1240.97 194.84C1241.86 193.1 1242.75 196.75 1243.64 194.86C1244.53 192.97 1245.42 186.42 1246.32 183.51C1247.21 180.59 1248.1 179.11 1248.99 177.38C1249.88 175.65 1250.78 174.58 1251.67 173.13C1252.56 171.69 1253.45 168.33 1254.34 168.7C1255.23 169.08 1256.13 174.85 1257.02 175.36C1257.91 175.87 1258.8 171.19 1259.69 171.77C1260.58 172.35 1261.48 174.92 1262.37 178.84C1263.26 182.76 1264.15 193.06 1265.04 195.29C1265.94 197.52 1266.83 191.76 1267.72 192.21C1268.61 192.67 1269.5 196.04 1270.39 198.03C1271.29 200.03 1272.18 202.16 1273.07 204.2C1273.96 206.23 1274.85 208.73 1275.74 210.26C1276.64 211.8 1277.53 214.3 1278.42 213.4C1279.31 212.49 1280.2 205.55 1281.1 204.84C1281.99 204.12 1282.88 208.22 1283.77 209.1C1284.66 209.99 1285.55 210.89 1286.45 210.15C1287.34 209.41 1288.23 206.04 1289.12 204.68C1290.01 203.31 1290.9 203.51 1291.8 201.94C1292.69 200.36 1293.58 195.83 1294.47 195.23C1295.36 194.63 1296.26 196.64 1297.15 198.31C1298.04 199.98 1298.93 203.4 1299.82 205.26C1300.71 207.13 1301.61 209.18 1302.5 209.49C1303.39 209.79 1304.28 206.53 1305.17 207.09C1306.07 207.66 1306.96 209.64 1307.85 212.88C1308.74 216.11 1309.63 224.88 1310.52 226.49C1311.42 228.1 1312.31 222.38 1313.2 222.54C1314.09 222.69 1314.98 227.6 1315.87 227.43C1316.77 227.25 1317.66 223.36 1318.55 221.48C1319.44 219.59 1320.33 215.88 1321.23 216.11C1322.12 216.34 1323.01 221.17 1323.9 222.83C1324.79 224.49 1325.68 224.64 1326.58 226.08C1327.47 227.51 1328.36 228.69 1329.25 231.44C1330.14 234.19 1331.03 239.43 1331.93 242.57C1332.82 245.72 1334.16 249.01 1334.6 250.3" fill="none" stroke="#e8b84b" stroke-width="2" stroke-linejoin="round" stroke-linecap="round"/>
<rect x="583.3" y="95.3" width="10.4" height="10.4" fill="#0ecb81"/>
<rect x="648.9" y="95.3" width="10.4" height="10.4" fill="#f6465d"/>
<rect x="722.2" y="95.3" width="10.4" height="10.4" fill="#e8b84b"/>
<path d="M1337.7 64 L1340.1 61.5 L1342.5 64 M1337.7 69.9 L1340.1 72.4 L1342.5 69.9" fill="none" stroke="#4b5159" stroke-width="1.4" stroke-linecap="round" stroke-linejoin="round"/>
<text x="15.7" y="31" font-size="19.5" fill="#16181c" font-weight="700" text-anchor="start" textLength="43.96" lengthAdjust="spacingAndGlyphs">Total</text>
<text x="65.1" y="31" font-size="19.5" fill="#16181c" font-weight="700" text-anchor="start" textLength="62.2" lengthAdjust="spacingAndGlyphs">Bitcoin</text>
<text x="132.6" y="31" font-size="19.5" fill="#16181c" font-weight="700" text-anchor="start" textLength="40.8" lengthAdjust="spacingAndGlyphs">Spot</text>
<text x="179" y="31" font-size="19.5" fill="#16181c" font-weight="700" text-anchor="start" textLength="30.77" lengthAdjust="spacingAndGlyphs">ETF</text>
<text x="215.4" y="31" font-size="19.5" fill="#16181c" font-weight="700" text-anchor="start" textLength="32.24" lengthAdjust="spacingAndGlyphs">Net</text>
<text x="252.9" y="31" font-size="19.5" fill="#16181c" font-weight="700" text-anchor="start" textLength="56.41" lengthAdjust="spacingAndGlyphs">Inflow</text>
<text x="315.7" y="31" font-size="19.5" fill="#16181c" font-weight="700" text-anchor="start" textLength="51.81" lengthAdjust="spacingAndGlyphs">(USD)</text>
<text x="35.3" y="72.3" font-size="13.7" fill="#3b3f45" font-weight="400" text-anchor="start" textLength="76.8" lengthAdjust="spacingAndGlyphs">Flows (USD)</text>
<text x="146.7" y="72.3" font-size="13.7" fill="#3b3f45" font-weight="400" text-anchor="start" textLength="29.07" lengthAdjust="spacingAndGlyphs">AUM</text>
<text x="209.2" y="72.3" font-size="13.7" fill="#3b3f45" font-weight="400" text-anchor="start" textLength="71.81" lengthAdjust="spacingAndGlyphs">Market Cap</text>
<text x="315.9" y="72.3" font-size="13.7" fill="#3b3f45" font-weight="400" text-anchor="start" textLength="46.81" lengthAdjust="spacingAndGlyphs">Volume</text>
<text x="1265.3" y="72.2" font-size="14.2" fill="#3b3f45" font-weight="400" text-anchor="start" textLength="16.02" lengthAdjust="spacingAndGlyphs">All</text>
<text x="600.8" y="104" font-size="11.3" fill="#4d5157" font-weight="400" text-anchor="start" textLength="34.54" lengthAdjust="spacingAndGlyphs">Inflow</text>
<text x="667.4" y="104" font-size="11.3" fill="#4d5157" font-weight="400" text-anchor="start" textLength="40.58" lengthAdjust="spacingAndGlyphs">Outflow</text>
<text x="736.4" y="104" font-size="11.3" fill="#4d5157" font-weight="400" text-anchor="start" textLength="51.41" lengthAdjust="spacingAndGlyphs">BTC Price</text>
<text x="55.93" y="131.55" font-size="11.4" fill="#2b2b2b" font-weight="400" text-anchor="start" textLength="30.17" lengthAdjust="spacingAndGlyphs" stroke="#2b2b2b" stroke-width="0.2">1.50B</text>
<text x="55.93" y="182.55" font-size="11.4" fill="#2b2b2b" font-weight="400" text-anchor="start" textLength="30.17" lengthAdjust="spacingAndGlyphs" stroke="#2b2b2b" stroke-width="0.2">1.00B</text>
<text x="41.1" y="234.55" font-size="11.4" fill="#2b2b2b" font-weight="400" text-anchor="start" textLength="46.0" lengthAdjust="spacingAndGlyphs" stroke="#2b2b2b" stroke-width="0.2">500.00M</text>
<text x="79.9" y="286.05" font-size="11.4" fill="#2b2b2b" font-weight="400" text-anchor="start" textLength="6.5" lengthAdjust="spacingAndGlyphs" stroke="#2b2b2b" stroke-width="0.2">0</text>
<text x="37.12" y="337.55" font-size="11.4" fill="#2b2b2b" font-weight="400" text-anchor="start" textLength="49.98" lengthAdjust="spacingAndGlyphs" stroke="#2b2b2b" stroke-width="0.2">-500.00M</text>
<text x="52.1" y="389.55" font-size="11.4" fill="#2b2b2b" font-weight="400" text-anchor="start" textLength="34.0" lengthAdjust="spacingAndGlyphs" stroke="#2b2b2b" stroke-width="0.2">-1.00B</text>
<text x="52.1" y="440.55" font-size="11.4" fill="#2b2b2b" font-weight="400" text-anchor="start" textLength="34.0" lengthAdjust="spacingAndGlyphs" stroke="#2b2b2b" stroke-width="0.2">-1.50B</text>
<text x="95.94" y="454.8" font-size="11.8" fill="#2b2b2b" font-weight="400" text-anchor="middle" textLength="59.79" lengthAdjust="spacingAndGlyphs" stroke="#2b2b2b" stroke-width="0.25">2024-01-12</text>
<text x="176.2" y="454.8" font-size="11.8" fill="#2b2b2b" font-weight="400" text-anchor="middle" textLength="59.79" lengthAdjust="spacingAndGlyphs" stroke="#2b2b2b" stroke-width="0.25">2024-02-27</text>
<text x="256.46" y="454.8" font-size="11.8" fill="#2b2b2b" font-weight="400" text-anchor="middle" textLength="59.79" lengthAdjust="spacingAndGlyphs" stroke="#2b2b2b" stroke-width="0.25">2024-04-10</text>
<text x="336.71" y="454.8" font-size="11.8" fill="#2b2b2b" font-weight="400" text-anchor="middle" textLength="59.79" lengthAdjust="spacingAndGlyphs" stroke="#2b2b2b" stroke-width="0.25">2024-05-22</text>
<text x="416.97" y="454.8" font-size="11.8" fill="#2b2b2b" font-weight="400" text-anchor="middle" textLength="59.79" lengthAdjust="spacingAndGlyphs" stroke="#2b2b2b" stroke-width="0.25">2024-07-08</text>
<text x="497.23" y="454.8" font-size="11.8" fill="#2b2b2b" font-weight="400" text-anchor="middle" textLength="59.79" lengthAdjust="spacingAndGlyphs" stroke="#2b2b2b" stroke-width="0.25">2024-08-19</text>
<text x="577.49" y="454.8" font-size="11.8" fill="#2b2b2b" font-weight="400" text-anchor="middle" textLength="59.79" lengthAdjust="spacingAndGlyphs" stroke="#2b2b2b" stroke-width="0.25">2024-10-01</text>
<text x="657.75" y="454.8" font-size="11.8" fill="#2b2b2b" font-weight="400" text-anchor="middle" textLength="58.92" lengthAdjust="spacingAndGlyphs" stroke="#2b2b2b" stroke-width="0.25">2024-11-12</text>
<text x="738.01" y="454.8" font-size="11.8" fill="#2b2b2b" font-weight="400" text-anchor="middle" textLength="59.79" lengthAdjust="spacingAndGlyphs" stroke="#2b2b2b" stroke-width="0.25">2024-12-26</text>
<text x="818.27" y="454.8" font-size="11.8" fill="#2b2b2b" font-weight="400" text-anchor="middle" textLength="58.92" lengthAdjust="spacingAndGlyphs" stroke="#2b2b2b" stroke-width="0.25">2025-02-11</text>
<text x="898.53" y="454.8" font-size="11.8" fill="#2b2b2b" font-weight="400" text-anchor="middle" textLength="59.79" lengthAdjust="spacingAndGlyphs" stroke="#2b2b2b" stroke-width="0.25">2025-03-26</text>
<text x="978.79" y="454.8" font-size="11.8" fill="#2b2b2b" font-weight="400" text-anchor="middle" textLength="59.79" lengthAdjust="spacingAndGlyphs" stroke="#2b2b2b" stroke-width="0.25">2025-05-08</text>
<text x="1059.05" y="454.8" font-size="11.8" fill="#2b2b2b" font-weight="400" text-anchor="middle" textLength="59.79" lengthAdjust="spacingAndGlyphs" stroke="#2b2b2b" stroke-width="0.25">2025-06-23</text>
<text x="1139.3" y="454.8" font-size="11.8" fill="#2b2b2b" font-weight="400" text-anchor="middle" textLength="59.79" lengthAdjust="spacingAndGlyphs" stroke="#2b2b2b" stroke-width="0.25">2025-08-05</text>
<text x="1219.56" y="454.8" font-size="11.8" fill="#2b2b2b" font-weight="400" text-anchor="middle" textLength="59.79" lengthAdjust="spacingAndGlyphs" stroke="#2b2b2b" stroke-width="0.25">2025-09-17</text>
<text x="1299.82" y="454.8" font-size="11.8" fill="#2b2b2b" font-weight="400" text-anchor="middle" textLength="59.79" lengthAdjust="spacingAndGlyphs" stroke="#2b2b2b" stroke-width="0.25">2025-10-29</text>
</svg>
</body></html>
